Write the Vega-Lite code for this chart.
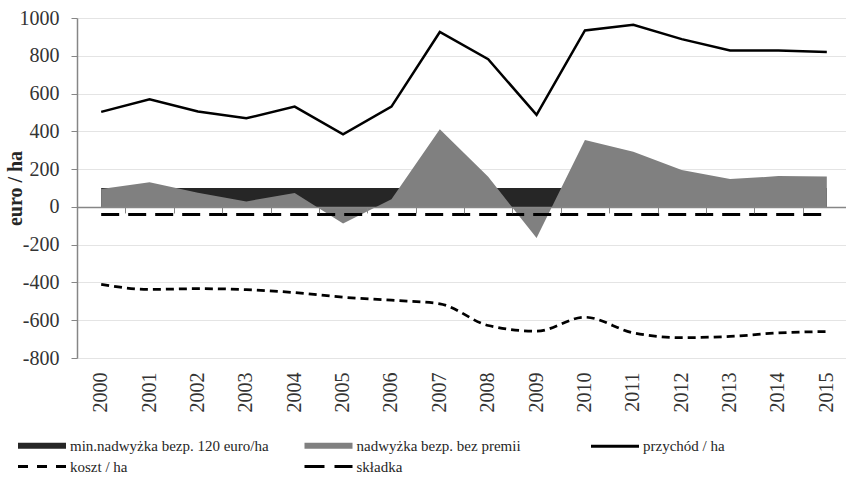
{
  "$schema": "https://vega.github.io/schema/vega-lite/v6.json",
  "width": 774,
  "height": 340,
  "autosize": {"type": "none"},
  "padding": {"left": 77, "top": 18, "right": 0, "bottom": 119},
  "background": "white",
  "config": {
    "font": "Liberation Serif",
    "view": {"stroke": null},
    "axis": {"labelFont": "Liberation Serif", "titleFont": "Liberation Serif", "labelColor": "#333333", "titleColor": "#262626"},
    "legend": {"labelFont": "Liberation Serif", "labelFontSize": 15, "labelColor": "#262626"}
  },
  "data": {
    "values": [
      {"year": "2000", "series": "min.nadwyżka bezp. 120 euro/ha", "value": 100},
      {"year": "2001", "series": "min.nadwyżka bezp. 120 euro/ha", "value": 100},
      {"year": "2002", "series": "min.nadwyżka bezp. 120 euro/ha", "value": 100},
      {"year": "2003", "series": "min.nadwyżka bezp. 120 euro/ha", "value": 100},
      {"year": "2004", "series": "min.nadwyżka bezp. 120 euro/ha", "value": 100},
      {"year": "2005", "series": "min.nadwyżka bezp. 120 euro/ha", "value": 100},
      {"year": "2006", "series": "min.nadwyżka bezp. 120 euro/ha", "value": 100},
      {"year": "2007", "series": "min.nadwyżka bezp. 120 euro/ha", "value": 100},
      {"year": "2008", "series": "min.nadwyżka bezp. 120 euro/ha", "value": 100},
      {"year": "2009", "series": "min.nadwyżka bezp. 120 euro/ha", "value": 100},
      {"year": "2010", "series": "min.nadwyżka bezp. 120 euro/ha", "value": 100},
      {"year": "2011", "series": "min.nadwyżka bezp. 120 euro/ha", "value": 100},
      {"year": "2012", "series": "min.nadwyżka bezp. 120 euro/ha", "value": 100},
      {"year": "2013", "series": "min.nadwyżka bezp. 120 euro/ha", "value": 100},
      {"year": "2014", "series": "min.nadwyżka bezp. 120 euro/ha", "value": 100},
      {"year": "2015", "series": "min.nadwyżka bezp. 120 euro/ha", "value": 100},
      {"year": "2000", "series": "nadwyżka bezp. bez premii", "value": 95},
      {"year": "2001", "series": "nadwyżka bezp. bez premii", "value": 131},
      {"year": "2002", "series": "nadwyżka bezp. bez premii", "value": 75},
      {"year": "2003", "series": "nadwyżka bezp. bez premii", "value": 29},
      {"year": "2004", "series": "nadwyżka bezp. bez premii", "value": 74},
      {"year": "2005", "series": "nadwyżka bezp. bez premii", "value": -88},
      {"year": "2006", "series": "nadwyżka bezp. bez premii", "value": 41},
      {"year": "2007", "series": "nadwyżka bezp. bez premii", "value": 411},
      {"year": "2008", "series": "nadwyżka bezp. bez premii", "value": 159},
      {"year": "2009", "series": "nadwyżka bezp. bez premii", "value": -165},
      {"year": "2010", "series": "nadwyżka bezp. bez premii", "value": 354},
      {"year": "2011", "series": "nadwyżka bezp. bez premii", "value": 292},
      {"year": "2012", "series": "nadwyżka bezp. bez premii", "value": 195},
      {"year": "2013", "series": "nadwyżka bezp. bez premii", "value": 147},
      {"year": "2014", "series": "nadwyżka bezp. bez premii", "value": 163},
      {"year": "2015", "series": "nadwyżka bezp. bez premii", "value": 161},
      {"year": "2000", "series": "przychód / ha", "value": 503},
      {"year": "2001", "series": "przychód / ha", "value": 570},
      {"year": "2002", "series": "przychód / ha", "value": 505},
      {"year": "2003", "series": "przychód / ha", "value": 469},
      {"year": "2004", "series": "przychód / ha", "value": 531},
      {"year": "2005", "series": "przychód / ha", "value": 384},
      {"year": "2006", "series": "przychód / ha", "value": 531},
      {"year": "2007", "series": "przychód / ha", "value": 926},
      {"year": "2008", "series": "przychód / ha", "value": 782},
      {"year": "2009", "series": "przychód / ha", "value": 487},
      {"year": "2010", "series": "przychód / ha", "value": 934},
      {"year": "2011", "series": "przychód / ha", "value": 964},
      {"year": "2012", "series": "przychód / ha", "value": 888},
      {"year": "2013", "series": "przychód / ha", "value": 828},
      {"year": "2014", "series": "przychód / ha", "value": 828},
      {"year": "2015", "series": "przychód / ha", "value": 820},
      {"year": "2000", "series": "koszt / ha", "value": -410},
      {"year": "2001", "series": "koszt / ha", "value": -437},
      {"year": "2002", "series": "koszt / ha", "value": -433},
      {"year": "2003", "series": "koszt / ha", "value": -438},
      {"year": "2004", "series": "koszt / ha", "value": -454},
      {"year": "2005", "series": "koszt / ha", "value": -478},
      {"year": "2006", "series": "koszt / ha", "value": -494},
      {"year": "2007", "series": "koszt / ha", "value": -513},
      {"year": "2008", "series": "koszt / ha", "value": -628},
      {"year": "2009", "series": "koszt / ha", "value": -658},
      {"year": "2010", "series": "koszt / ha", "value": -584},
      {"year": "2011", "series": "koszt / ha", "value": -667},
      {"year": "2012", "series": "koszt / ha", "value": -692},
      {"year": "2013", "series": "koszt / ha", "value": -686},
      {"year": "2014", "series": "koszt / ha", "value": -667},
      {"year": "2015", "series": "koszt / ha", "value": -660},
      {"year": "2000", "series": "składka", "value": -40},
      {"year": "2001", "series": "składka", "value": -40},
      {"year": "2002", "series": "składka", "value": -40},
      {"year": "2003", "series": "składka", "value": -40},
      {"year": "2004", "series": "składka", "value": -40},
      {"year": "2005", "series": "składka", "value": -40},
      {"year": "2006", "series": "składka", "value": -40},
      {"year": "2007", "series": "składka", "value": -40},
      {"year": "2008", "series": "składka", "value": -40},
      {"year": "2009", "series": "składka", "value": -40},
      {"year": "2010", "series": "składka", "value": -40},
      {"year": "2011", "series": "składka", "value": -40},
      {"year": "2012", "series": "składka", "value": -40},
      {"year": "2013", "series": "składka", "value": -40},
      {"year": "2014", "series": "składka", "value": -40},
      {"year": "2015", "series": "składka", "value": -40}
    ]
  },
  "encoding": {
    "y": {"field": "value", "type": "quantitative", "stack": null,
      "scale": {"domain": [-800, 1000], "nice": false, "zero": false},
      "axis": {"title": "euro / ha", "titleFontSize": 20, "titleFontWeight": "bold", "titleX": -62, "titleY": 170,
        "titleAngle": -90, "titleAlign": "center", "titleBaseline": "middle",
        "values": [-800, -600, -400, -200, 0, 200, 400, 600, 800, 1000], "tickCount": 10,
        "labelExpr": "'' + datum.value", "labelFontSize": 20, "labelPadding": 12, "labelOverlap": false,
        "domainColor": "#868686", "domainWidth": 1.5, "tickColor": "#868686", "tickSize": 6,
        "grid": true, "gridColor": "#e4e4e4", "gridWidth": 1}}
  },
  "layer": [
    {
      "transform": [{"filter": {"field": "series", "equal": "min.nadwyżka bezp. 120 euro/ha"}}],
      "mark": {"type": "area", "color": "#262626"},
      "encoding": {
        "x": {"field": "year", "type": "ordinal", "bandPosition": 0.5,
          "scale": {"type": "band", "paddingInner": 0, "paddingOuter": 0},
          "axis": {"orient": "bottom", "title": null, "domain": false, "ticks": false, "tickSize": 0, "grid": false,
            "labelAngle": -90, "labelFontSize": 20, "labelPadding": 14, "labelOverlap": false}},
        "y2": {"datum": 0}
      }
    },
    {
      "transform": [{"filter": {"field": "series", "equal": "nadwyżka bezp. bez premii"}}],
      "mark": {"type": "area", "color": "#808080"},
      "encoding": {
        "x": {"field": "year", "type": "ordinal", "bandPosition": 0.5,
          "axis": {"orient": "bottom", "offset": -151.1, "title": null, "labels": false, "grid": false,
            "domain": true, "domainColor": "#868686", "domainWidth": 1.5,
            "ticks": true, "tickColor": "#868686", "tickSize": 6, "tickWidth": 1, "tickBand": "extent", "zindex": 1}},
        "y2": {"datum": 0}
      }
    },
    {
      "transform": [{"filter": {"field": "series", "equal": "przychód / ha"}}],
      "mark": {"type": "line", "color": "#000000", "strokeWidth": 2.5},
      "encoding": {
        "x": {"field": "year", "type": "ordinal", "bandPosition": 0.5, "axis": null}
      }
    },
    {
      "transform": [{"filter": {"field": "series", "equal": "koszt / ha"}}],
      "mark": {"type": "line", "color": "#000000", "strokeWidth": 2.75, "strokeDash": [8, 5], "interpolate": "monotone"},
      "encoding": {
        "x": {"field": "year", "type": "ordinal", "bandPosition": 0.5, "axis": null}
      }
    },
    {
      "transform": [{"filter": {"field": "series", "equal": "składka"}}],
      "mark": {"type": "line", "color": "#000000", "strokeWidth": 3, "strokeDash": [18, 9]},
      "encoding": {
        "x": {"field": "year", "type": "ordinal", "bandPosition": 0.5, "axis": null}
      }
    },
    {
      "mark": {"type": "point", "opacity": 0, "strokeWidth": 3},
      "encoding": {
        "x": {"field": "year", "type": "ordinal", "bandPosition": 0.5, "axis": null},
        "shape": {"field": "series", "type": "nominal",
          "scale": {"domain": ["min.nadwyżka bezp. 120 euro/ha", "nadwyżka bezp. bez premii", "przychód / ha", "koszt / ha", "składka"],
            "range": ["M-1,-0.3H3.8V0.3H-1Z", "M-1,-0.3H3.8V0.3H-1Z", "M-1,0H3.8", "M-1,0H0M0.9,0H1.9M2.8,0H3.8", "M-1,0H1M2,0H3.8"]},
          "legend": {"title": null, "orient": "none", "direction": "horizontal", "legendX": -60.5, "legendY": 416, "columns": 3, "gridAlign": "all",
            "columnPadding": 28.5, "rowPadding": 0, "symbolSize": 400, "symbolStrokeWidth": 3, "symbolOpacity": 1,
            "labelFontSize": 15, "labelFont": "Liberation Serif", "labelColor": "#262626", "labelOffset": 30.5, "labelLimit": 0, "padding": 0,
            "encode": {"labels": {"update": {"font": {"value": "Liberation Serif"}}}}}},
        "fill": {"field": "series", "type": "nominal",
          "scale": {"domain": ["min.nadwyżka bezp. 120 euro/ha", "nadwyżka bezp. bez premii", "przychód / ha", "koszt / ha", "składka"],
            "range": ["#262626", "#808080", "transparent", "transparent", "transparent"]}},
        "stroke": {"field": "series", "type": "nominal",
          "scale": {"domain": ["min.nadwyżka bezp. 120 euro/ha", "nadwyżka bezp. bez premii", "przychód / ha", "koszt / ha", "składka"],
            "range": ["transparent", "transparent", "#000000", "#000000", "#000000"]}}
      }
    }
  ],
  "resolve": {"axis": {"x": "independent"}}
}
